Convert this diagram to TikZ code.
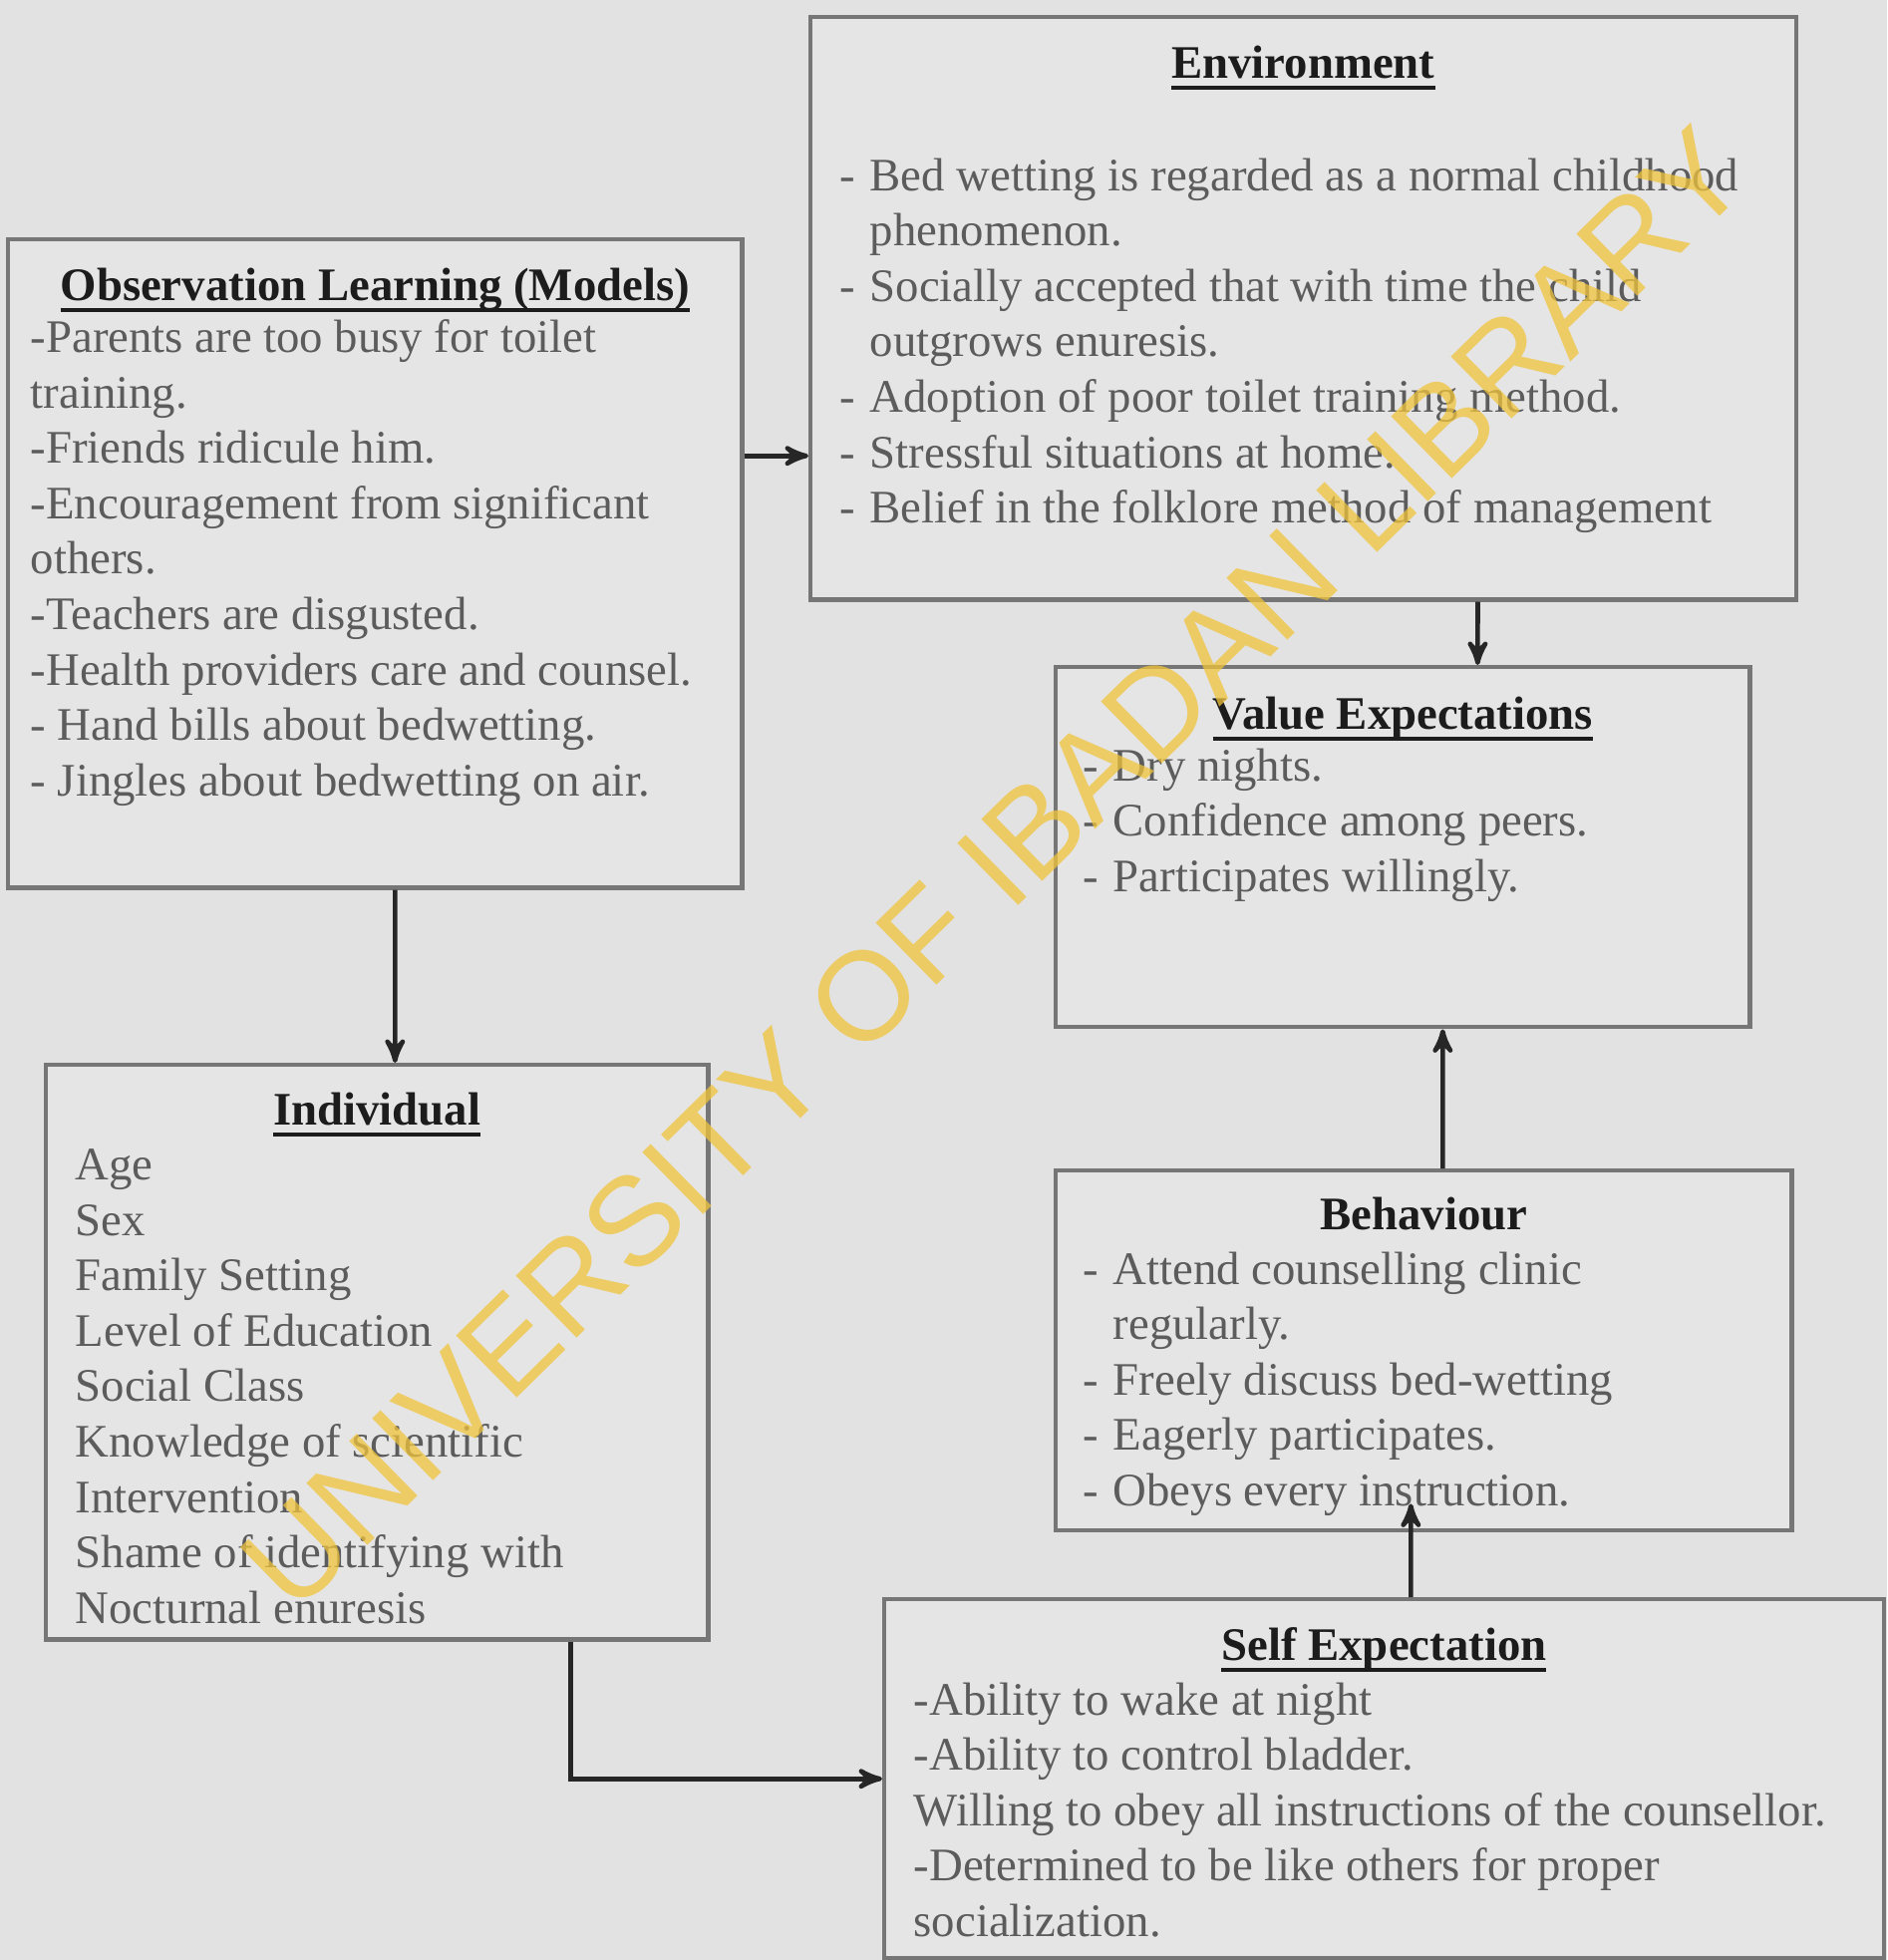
\documentclass[tikz,border=0pt]{standalone}
\usepackage{fontspec}
\setmainfont{Liberation Serif}
\newfontfamily\wmfont{Liberation Sans}
\usetikzlibrary{arrows,positioning}

\definecolor{bggray}{RGB}{226,226,226}
\definecolor{boxfill}{RGB}{229,229,229}
\definecolor{boxline}{RGB}{118,118,118}
\definecolor{txtgray}{RGB}{92,92,92}
\definecolor{headblack}{RGB}{28,28,28}
\definecolor{wmyellow}{RGB}{240,196,60}

\newcommand{\uhead}[1]{\setbox0\hbox{#1}\rlap{\rule[-3.5pt]{\wd0}{1.1pt}}\box0}
\newcommand{\dsh}{\makebox[0.3cm][l]{-}}
\newcommand{\indt}{\hspace*{0.3cm}}

\begin{document}
\begin{tikzpicture}[x=0.01cm,y=-0.01cm,>=stealth',
	box/.style={draw=boxline,line width=1.2pt,fill=boxfill,inner sep=0pt,anchor=north west},
	head/.style={font=\bfseries\fontsize{13.3}{15.8}\selectfont,text=headblack,anchor=base,inner sep=0pt},
	body/.style={font=\fontsize{13.3}{15.8}\selectfont,text=txtgray,align=left,anchor=north west,inner sep=0pt,execute at begin node=\strut},
	link/.style={->,draw=black!85,line width=1.3pt}]

\fill[bggray] (0,0) rectangle (1893,1966);
\useasboundingbox (0,0) rectangle (1893,1966);

% boxes
\node[box,minimum width=7.36cm,minimum height=6.5cm]   (obs)   at (6,238)    {};
\node[box,minimum width=9.88cm,minimum height=5.84cm]  (env)   at (811,15)   {};
\node[box,minimum width=6.96cm,minimum height=3.61cm]  (value) at (1057,667) {};
\node[box,minimum width=6.64cm,minimum height=5.76cm]  (ind)   at (44,1066)  {};
\node[box,minimum width=7.38cm,minimum height=3.61cm]  (beh)   at (1057,1172) {};
\node[box,minimum width=10.02cm,minimum height=3.6cm]  (self)  at (885,1602) {};

% headings
\node[head] (obsT)   at ([yshift=-0.63cm]obs.north)   {\uhead{Observation Learning (Models)}};
\node[head] (envT)   at ([yshift=-0.63cm]env.north)   {\uhead{Environment}};
\node[head] (valueT) at ([yshift=-0.64cm]value.north) {\uhead{Value Expectations}};
\node[head] (indT)   at ([yshift=-0.62cm]ind.north)   {\uhead{Individual}};
\node[head] (behT)   at ([yshift=-0.61cm]beh.north)   {Behaviour};
\node[head] (selfT)  at ([yshift=-0.63cm]self.north)  {\uhead{Self Expectation}};

% lists
\node[body] (obsL) at ([xshift=0.24cm,yshift=-0.82cm]obs.north west)
	{-Parents are too busy for toilet\\training.\\-Friends ridicule him.\\-Encouragement from significant\\others.\\-Teachers are disgusted.\\-Health providers care and counsel.\\- Hand bills about bedwetting.\\- Jingles about bedwetting on air.};
\node[body] (envL) at ([xshift=0.31cm,yshift=-1.43cm]env.north west)
	{\dsh Bed wetting is regarded as a normal childhood\\\indt phenomenon.\\\dsh Socially accepted that with time the child\\\indt outgrows enuresis.\\\dsh Adoption of poor toilet training method.\\\dsh Stressful situations at home.\\\dsh Belief in the folklore method of management};
\node[body] (valueL) at ([xshift=0.29cm,yshift=-0.83cm]value.north west)
	{\dsh Dry nights.\\\dsh Confidence among peers.\\\dsh Participates willingly.};
\node[body] (indL) at ([xshift=0.31cm,yshift=-0.86cm]ind.north west)
	{Age\\Sex\\Family Setting\\Level of Education\\Social Class\\Knowledge of scientific\\Intervention\\Shame of identifying with\\Nocturnal enuresis};
\node[body] (behL) at ([xshift=0.29cm,yshift=-0.83cm]beh.north west)
	{\dsh Attend counselling clinic\\\indt regularly.\\\dsh Freely discuss bed-wetting\\\dsh Eagerly participates.\\\dsh Obeys every instruction.};
\node[body] (selfL) at ([xshift=0.31cm,yshift=-0.85cm]self.north west)
	{-Ability to wake at night\\-Ability to control bladder.\\Willing to obey all instructions of the counsellor.\\-Determined to be like others for proper\\socialization.};

% connectors
\draw[link] ([yshift=1.08cm]obs.east) coordinate (oe) -- (oe -| env.west);
\draw[link] ([xshift=1.75cm]env.south) -- ([xshift=0.75cm]value.north);
\draw[link] ([xshift=0.2cm]obs.south) -- ([xshift=0.18cm]ind.north);
\draw[link] ([xshift=0.19cm]beh.north) -- ([xshift=0.4cm]value.south);
\draw[link] ([xshift=0.27cm]self.north) -- ([xshift=-0.13cm,yshift=0.29cm]beh.south);
\draw[link] ([xshift=1.94cm]ind.south) |- (self.west);

% watermark
\node[rotate=44.5,text=wmyellow,opacity=0.75,inner sep=0pt,font=\wmfont\fontsize{36}{36}\selectfont] (wm) at (997,871) {UNIVERSITY OF IBADAN LIBRARY};

\end{tikzpicture}
\end{document}
